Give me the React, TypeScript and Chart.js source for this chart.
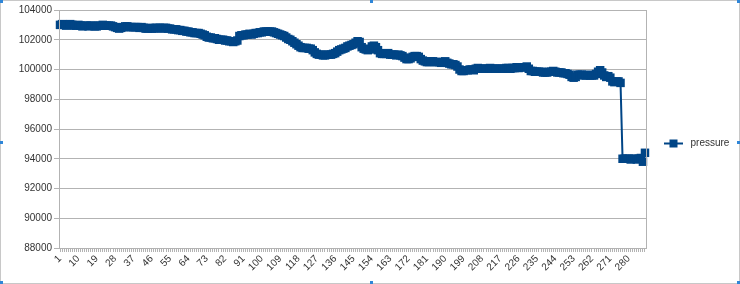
import { useEffect, useRef } from 'react';
import { Chart, registerables } from 'chart.js';

Chart.register(...registerables);

const categories: string[] = Array.from({ length: 288 }, (_, i) => String(i + 1));

const pressure: number[] = [
  103000, 103050, 103000, 102950, 103000, 103050, 103000, 102950, 102950, 103000, 102950, 102900,
  102950, 102950, 102900, 102950, 102950, 102900, 102900, 102950, 102950, 103000, 102950, 102950,
  102950, 102950, 102900, 102850, 102800, 102750, 102800, 102850, 102900, 102900, 102850, 102850,
  102850, 102850, 102850, 102800, 102850, 102800, 102750, 102750, 102800, 102750, 102750, 102800,
  102800, 102800, 102750, 102800, 102800, 102750, 102750, 102700, 102700, 102700, 102650, 102650,
  102600, 102600, 102550, 102550, 102500, 102500, 102450, 102450, 102450, 102400, 102350, 102300,
  102200, 102150, 102150, 102100, 102100, 102050, 102000, 102000, 102000, 101950, 101950, 101900,
  101900, 101850, 101900, 101950, 102250, 102300, 102300, 102350, 102350, 102400, 102350, 102400,
  102450, 102450, 102500, 102500, 102550, 102550, 102550, 102550, 102550, 102500, 102450, 102400,
  102350, 102300, 102250, 102150, 102050, 102000, 101900, 101800, 101700, 101600, 101500, 101450,
  101450, 101450, 101400, 101400, 101300, 101150, 101050, 101000, 101000, 100950, 100950, 101000,
  101000, 101000, 101050, 101100, 101200, 101300, 101350, 101400, 101450, 101550, 101600, 101650,
  101700, 101800, 101900, 101850, 101500, 101400, 101350, 101300, 101350, 101550, 101600, 101500,
  101300, 101100, 101050, 101050, 101050, 101100, 101000, 101000, 101000, 100950, 101000, 100950,
  100900, 100800, 100700, 100700, 100750, 100850, 100900, 100900, 100850, 100700, 100600, 100550,
  100500, 100500, 100550, 100550, 100500, 100500, 100500, 100450, 100500, 100550, 100450, 100400,
  100350, 100350, 100300, 100200, 100000, 99900, 99900, 99950, 99950, 100000, 100000, 99950,
  100050, 100100, 100050, 100050, 100050, 100050, 100050, 100100, 100050, 100050, 100050, 100050,
  100050, 100050, 100050, 100100, 100100, 100050, 100100, 100100, 100150, 100100, 100150, 100150,
  100150, 100200, 100050, 99900, 99900, 99850, 99850, 99850, 99850, 99800, 99800, 99800,
  99850, 99850, 99900, 99850, 99800, 99800, 99800, 99750, 99750, 99700, 99650, 99500,
  99450, 99500, 99650, 99650, 99650, 99600, 99600, 99650, 99600, 99600, 99600, 99700,
  99850, 99950, 99800, 99600, 99500, 99550, 99450, 99200, 99150, 99200, 99200, 99100,
  94000, 94000, 94000, 94000, 93950, 94000, 94000, 93950, 94000, 94050, 93800, 94400,
];

const seriesName = 'pressure';
const yMin = 88000;
const yMax = 104000;
const yStep = 2000;
const labelEvery = 9;

const SERIES_COLOR = '#004586';
const GRID_COLOR = '#b3b3b3';
const TEXT_COLOR = '#333333';
const FONT = '"Liberation Sans", Arial, sans-serif';

const decorPlugin = {
  id: 'decor',
  afterDraw(chart: any) {
    const { ctx, chartArea } = chart;
    ctx.save();
    ctx.strokeStyle = GRID_COLOR;
    ctx.lineWidth = 1;
    ctx.strokeRect(
      Math.round(chartArea.left) + 0.5,
      Math.round(chartArea.top) + 0.5,
      Math.round(chartArea.right - chartArea.left),
      Math.round(chartArea.bottom - chartArea.top)
    );
    const ly = 143.5;
    ctx.strokeStyle = SERIES_COLOR;
    ctx.lineWidth = 2;
    ctx.beginPath();
    ctx.moveTo(664, ly);
    ctx.lineTo(683, ly);
    ctx.stroke();
    ctx.fillStyle = SERIES_COLOR;
    ctx.fillRect(669.5, ly - 4, 8, 8);
    ctx.fillStyle = TEXT_COLOR;
    ctx.font = `10px ${FONT}`;
    ctx.textBaseline = 'middle';
    ctx.textAlign = 'left';
    ctx.fillText(seriesName, 690.5, ly);
    ctx.strokeStyle = '#c8c8c8';
    ctx.lineWidth = 1;
    ctx.strokeRect(0.5, 0.5, 739, 283);
    ctx.fillStyle = '#2f86d8';
    const handles = [
      [0, 0], [370, 0], [737, 0],
      [0, 141], [737, 141],
      [0, 281], [370, 281], [737, 281],
    ];
    handles.forEach(([x, y]) => ctx.fillRect(x, y, 3, 3));
    ctx.restore();
  },
};

export default function App() {
  const ref = useRef<HTMLCanvasElement>(null);

  useEffect(() => {
    document.body.style.margin = '0';
    const chart = new Chart(ref.current as HTMLCanvasElement, {
      type: 'line',
      data: {
        labels: categories,
        datasets: [
          {
            label: seriesName,
            data: pressure,
            borderColor: SERIES_COLOR,
            backgroundColor: SERIES_COLOR,
            borderWidth: 2,
            pointStyle: 'rect',
            pointRadius: 6,
            pointBorderWidth: 0,
            pointBackgroundColor: SERIES_COLOR,
            tension: 0,
            clip: false,
          } as any,
        ],
      },
      options: {
        responsive: false,
        animation: false,
        events: [],
        layout: { padding: { left: 0, right: 94, top: 10, bottom: 0 } },
        plugins: {
          legend: { display: false },
          tooltip: { enabled: false },
        },
        scales: {
          x: {
            type: 'category',
            offset: true,
            grid: {
              drawOnChartArea: false,
              drawTicks: true,
              tickLength: 4,
              color: GRID_COLOR,
              offset: false,
            },
            border: { color: GRID_COLOR },
            ticks: {
              autoSkip: false,
              maxRotation: 45,
              minRotation: 45,
              padding: 1,
              color: TEXT_COLOR,
              font: { family: FONT, size: 10 },
              callback: (_v: any, i: number) => (i % labelEvery === 0 ? categories[i] : ''),
            },
            afterFit: (s: any) => {
              s.height = 36;
            },
          },
          y: {
            min: yMin,
            max: yMax,
            grid: {
              color: GRID_COLOR,
              tickLength: 5,
            },
            border: { color: GRID_COLOR },
            ticks: {
              stepSize: yStep,
              padding: 2,
              color: TEXT_COLOR,
              font: { family: FONT, size: 10 },
              callback: (v: any) => String(v),
            },
            afterFit: (s: any) => {
              s.width = 59;
            },
          },
        },
      },
      plugins: [decorPlugin],
    });
    return () => chart.destroy();
  }, []);

  return (
    <div style={{ position: 'relative', width: 740, height: 284, background: '#fff' }}>
      <canvas ref={ref} width={740} height={284} style={{ display: 'block' }} />
    </div>
  );
}
